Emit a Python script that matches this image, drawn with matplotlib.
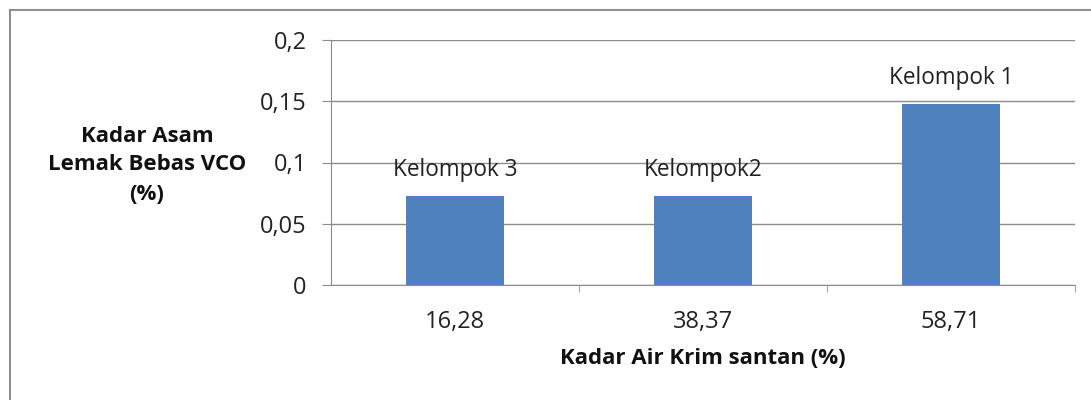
import matplotlib
matplotlib.use("Agg")
import matplotlib.pyplot as plt
from matplotlib.lines import Line2D

# data
kadar_air = ["16,28", "38,37", "58,71"]
asam_lemak = [0.073, 0.073, 0.1475]
kelompok = ["Kelompok 3", "Kelompok2", "Kelompok 1"]
y_ticks = [0, 0.05, 0.1, 0.15, 0.2]
y_tick_labels = ["0", "0,05", "0,1", "0,15", "0,2"]

plt.rcParams["font.family"] = ["Open Sans", "DejaVu Sans"]
grey = "#8c8c8c"
bar_color = "#4f81bd"
txt = "#222222"

fig = plt.figure(figsize=(10.91, 4.0), dpi=100)
ax = fig.add_axes([331 / 1091, 1 - 285 / 400, 744 / 1091, 245 / 400])

x = range(len(kadar_air))
bars = ax.bar(x, asam_lemak, width=0.395, color=bar_color, zorder=3)
for b, lab in zip(bars, kelompok):
    ax.annotate(lab, (b.get_x() + b.get_width() / 2, b.get_height()),
                xytext=(0, 10), textcoords="offset points",
                ha="center", va="bottom", fontsize=16.3, color=txt)

ax.set_xlim(-0.5, 2.5)
ax.set_ylim(0, 0.2)
ax.set_yticks(y_ticks)
ax.set_yticklabels(y_tick_labels, fontsize=17, color=txt)
ax.set_xticks(list(x))
ax.set_xticklabels(kadar_air, fontsize=17, color=txt)
ax.tick_params(axis="x", length=0, pad=18)
ax.set_xticks([0.5, 1.5, 2.5], minor=True)
ax.tick_params(axis="x", which="minor", length=5, color=grey, direction="out")
ax.tick_params(axis="y", length=6.5, color=grey, pad=11)
ax.grid(axis="y", color=grey, linewidth=1.0, zorder=0)

for side in ["top", "right"]:
    ax.spines[side].set_visible(False)
ax.spines["left"].set_color(grey)
ax.spines["bottom"].set_color(grey)

ax.set_xlabel("Kadar Air Krim santan (%)", fontsize=16, fontweight="bold",
              color="#111111", labelpad=10)
fig.text(147 / 1091, 1 - 165 / 400, "Kadar Asam\nLemak Bebas VCO\n(%)",
         ha="center", va="center", fontsize=16, fontweight="bold",
         color="#111111", linespacing=1.5)

# outer chart frame (only top and left edges visible)
fig.add_artist(Line2D([10 / 1091, 1], [1 - 10 / 400, 1 - 10 / 400], color="#909090", linewidth=1.5))
fig.add_artist(Line2D([10 / 1091, 10 / 1091], [0, 1 - 10 / 400], color="#909090", linewidth=1.5))

fig.savefig("out.png", dpi=100)
plt.close(fig)
